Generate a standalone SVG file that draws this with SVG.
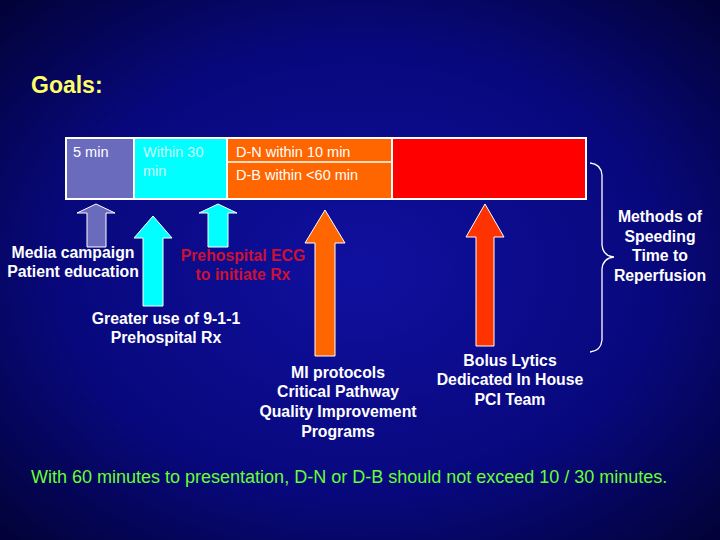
<svg xmlns="http://www.w3.org/2000/svg" width="720" height="540" viewBox="0 0 720 540">
<defs>
<radialGradient id="bg" cx="50%" cy="50%" r="70%">
<stop offset="0" stop-color="#1010a0"/><stop offset="0.6" stop-color="#08087c"/><stop offset="1" stop-color="#020238"/>
</radialGradient>
</defs>
<style>
text{font-family:"Liberation Sans",Arial,sans-serif}
.b{font-weight:bold;font-size:15.8px;fill:#fff;text-anchor:middle}
.c{font-size:14.5px;fill:#fff}
.ar{stroke:#fff;stroke-width:1}
</style>
<rect width="720" height="540" fill="url(#bg)"/>
<text x="31" y="93" font-size="23" font-weight="bold" fill="#ffff66">Goals:</text>
<g id="bar">
<rect x="65" y="137" width="522" height="63" fill="#fff"/>
<rect x="67" y="139" width="66" height="59" fill="#6b6bbd"/>
<rect x="135" y="139" width="91" height="59" fill="#00ffff"/>
<rect x="228" y="139" width="163" height="59" fill="#ff6600"/>
<line x1="228" y1="162" x2="391" y2="162" stroke="#fff" stroke-width="1.5"/>
<rect x="393" y="139" width="192" height="59" fill="#ff0000"/>
<text class="c" x="73" y="157">5 min</text>
<text class="c" x="143" y="157" style="fill:#c8ffff">Within 30</text>
<text class="c" x="143" y="176" style="fill:#c8ffff">min</text>
<text class="c" x="236" y="157">D-N within 10 min</text>
<text class="c" x="236" y="180">D-B within &lt;60 min</text>
</g>
<g id="connectors">
<polygon class="ar" fill="#6b6bbd" points="96,204 115,213 106,213 106,247 87,247 87,213 77,213"/>
<polygon class="ar" fill="#00ffff" points="153,216 172,238 163,238 163,306 143,306 143,238 134,238"/>
<polygon class="ar" fill="#00ffff" points="218,204 237,213 228,213 228,247 208,247 208,213 199,213"/>
<polygon class="ar" fill="#ff6600" points="325,210 345,243 335,243 335,356 315,356 315,243 305,243"/>
<polygon class="ar" fill="#ff3300" points="485,204 504,237 494,237 494,346 476,346 476,237 466,237"/>
<path d="M590,163 Q601,164 602,175 L602,245 Q603,256 614,257 Q603,258 602,269 L602,340 Q601,351 590,352" fill="none" stroke="#fff" stroke-width="1.3"/>
</g>
<g id="labels">
<text class="b" x="73" y="258">Media campaign</text>
<text class="b" x="73" y="277">Patient education</text>
<text class="b" x="243" y="261" style="fill:#cc1133">Prehospital ECG</text>
<text class="b" x="243" y="280" style="fill:#cc1133">to initiate Rx</text>
<text class="b" x="166" y="324">Greater use of 9-1-1</text>
<text class="b" x="166" y="343">Prehospital Rx</text>
<text class="b" x="338" y="378">MI protocols</text>
<text class="b" x="338" y="397">Critical Pathway</text>
<text class="b" x="338" y="417">Quality Improvement</text>
<text class="b" x="338" y="437">Programs</text>
<text class="b" x="510" y="366">Bolus Lytics</text>
<text class="b" x="510" y="385">Dedicated In House</text>
<text class="b" x="510" y="405">PCI Team</text>
<text class="b" x="660" y="222">Methods of</text>
<text class="b" x="660" y="242">Speeding</text>
<text class="b" x="660" y="261">Time to</text>
<text class="b" x="660" y="281">Reperfusion</text>
<text x="31" y="483" font-size="18" fill="#66ff33">With 60 minutes to presentation, D-N or D-B should not exceed 10 / 30 minutes.</text>
</g>
</svg>
